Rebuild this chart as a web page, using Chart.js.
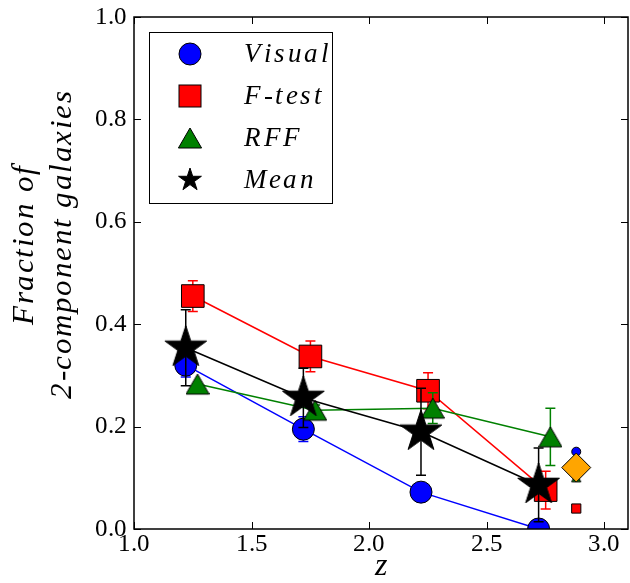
<!DOCTYPE html>
<html>
<head>
<script src="https://cdn.jsdelivr.net/npm/chart.js@4.4.1/dist/chart.umd.min.js"></script>
</head>
<body style="margin:0">
<div style="width:630px;height:583px"><canvas id="fracChart"></canvas></div>
<script>
// values
var seriesNames = ["Visual", "F-test", "RFF", "Mean"];
var zVisual = [1.22, 1.72, 2.22, 2.72];
var fVisual = [0.32, 0.195, 0.072, 0.0];
var eVisual = [0.023, 0.024, 0.0, 0.0];
var zFtest = [1.25, 1.75, 2.25, 2.75];
var fFtest = [0.455, 0.337, 0.27, 0.076];
var eFtest = [0.03, 0.03, 0.035, 0.037];
var zRFF = [1.27, 1.77, 2.27, 2.77];
var fRFF = [0.283, 0.232, 0.236, 0.18];
var eRFF = [0.0, 0.01, 0.03, 0.056];
var zMean = [1.22, 1.72, 2.22, 2.72];
var fMean = [0.354, 0.256, 0.19, 0.086];
var eMean = [0.074, 0.058, 0.085, 0.072];
// single markers on the right
var zExtra = 2.88;
var fExtraVisual = 0.151;
var fExtraFtest = 0.04;
var fExtraRFF = 0.10;
var fExtraAll = 0.12;
var xTicks = [1.0, 1.5, 2.0, 2.5, 3.0];
var yTicks = [0.0, 0.2, 0.4, 0.6, 0.8, 1.0];

var fam = '"TeXish", "Liberation Serif", serif';

function pts(xs, ys) {
    return xs.map(function (x, i) { return {x: x, y: ys[i]}; });
}

function starImg(r, color) {
    var c = document.createElement('canvas');
    c.width = c.height = Math.ceil(2 * r + 4);
    var ctx = c.getContext('2d');
    var cx = c.width / 2, cy = c.height / 2, ri = r * 0.382;
    ctx.beginPath();
    for (var k = 0; k < 10; k++) {
        var rr = k % 2 ? ri : r;
        var a = -Math.PI / 2 + k * Math.PI / 5;
        ctx.lineTo(cx + rr * Math.cos(a), cy + rr * Math.sin(a));
    }
    ctx.closePath();
    ctx.fillStyle = color;
    ctx.fill();
    ctx.lineWidth = 1;
    ctx.strokeStyle = '#000';
    ctx.stroke();
    return c;
}

function triImg(h, color) {
    var c = document.createElement('canvas');
    c.width = c.height = Math.ceil(h + 4);
    var ctx = c.getContext('2d');
    var cx = c.width / 2, cy = c.height / 2;
    ctx.beginPath();
    ctx.moveTo(cx, cy - h / 2);
    ctx.lineTo(cx + h * 0.58, cy + h / 2);
    ctx.lineTo(cx - h * 0.58, cy + h / 2);
    ctx.closePath();
    ctx.fillStyle = color;
    ctx.fill();
    ctx.lineWidth = 1;
    ctx.strokeStyle = '#000';
    ctx.stroke();
    return c;
}

var bigStar = starImg(22, '#000');
var bigTri = triImg(20, '#008000');
var smallTri = triImg(8, '#008000');

// spaced-out italic text, like the TeX math italic in the original
function spacedText(ctx, text, x, y, gap) {
    var w = 0;
    for (var i = 0; i < text.length; i++) w += ctx.measureText(text[i]).width + (i ? gap : 0);
    var align = ctx.textAlign;
    var cx = align === 'center' ? x - w / 2 : x;
    ctx.textAlign = 'left';
    for (var j = 0; j < text.length; j++) {
        ctx.fillText(text[j], cx, y);
        cx += ctx.measureText(text[j]).width + gap;
    }
    ctx.textAlign = align;
}

// error bars, drawn just before each dataset so the markers sit on top
var errorBars = {
    id: 'errorBars',
    beforeDatasetDraw: function (chart, args) {
        var ds = chart.data.datasets[args.index];
        if (!ds.errors) return;
        var xs = chart.scales.x, ys = chart.scales.y, ctx = chart.ctx, a = chart.chartArea;
        ctx.save();
        ctx.beginPath();
        ctx.rect(a.left, a.top, a.right - a.left, a.bottom - a.top);
        ctx.clip();
        ctx.strokeStyle = ds.errColor;
        ctx.lineWidth = 1.5;
        ds.data.forEach(function (p, i) {
            var e = ds.errors[i];
            if (!e) return;
            var px = xs.getPixelForValue(p.x);
            var y1 = ys.getPixelForValue(p.y + e), y2 = ys.getPixelForValue(p.y - e);
            ctx.beginPath();
            ctx.moveTo(px, y1); ctx.lineTo(px, y2);
            ctx.moveTo(px - 5, y1); ctx.lineTo(px + 5, y1);
            ctx.moveTo(px - 5, y2); ctx.lineTo(px + 5, y2);
            ctx.stroke();
        });
        ctx.restore();
    }
};

// frame, inward ticks, y label and legend box
var decor = {
    id: 'decor',
    afterDraw: function (chart) {
        var ctx = chart.ctx, a = chart.chartArea, xs = chart.scales.x, ys = chart.scales.y;
        ctx.save();
        ctx.strokeStyle = '#000';
        ctx.lineWidth = 1.5;
        ctx.strokeRect(a.left, a.top, a.right - a.left, a.bottom - a.top);
        ctx.lineWidth = 1;
        ctx.beginPath();
        xTicks.forEach(function (v) {
            var px = Math.round(xs.getPixelForValue(v)) + 0.5;
            ctx.moveTo(px, a.bottom); ctx.lineTo(px, a.bottom - 7);
            ctx.moveTo(px, a.top); ctx.lineTo(px, a.top + 7);
        });
        yTicks.forEach(function (v) {
            var py = Math.round(ys.getPixelForValue(v)) + 0.5;
            ctx.moveTo(a.left, py); ctx.lineTo(a.left + 7, py);
            ctx.moveTo(a.right, py); ctx.lineTo(a.right - 7, py);
        });
        ctx.stroke();

        // y axis title, two lines
        ctx.fillStyle = '#000';
        ctx.font = 'italic 31px ' + fam;
        ctx.textAlign = 'center';
        ctx.textBaseline = 'middle';
        ctx.translate(0, (a.top + a.bottom) / 2 - 28);
        ctx.rotate(-Math.PI / 2);
        spacedText(ctx, 'Fraction of', 0, 25, 1.5);
        spacedText(ctx, '2-component galaxies', 0, 63, 1.5);
        ctx.setTransform(1, 0, 0, 1, 0, 0);

        // legend
        var bx = a.left + 15, by = a.top + 15, bw = 183, bh = 171;
        ctx.fillStyle = '#fff';
        ctx.fillRect(bx, by, bw, bh);
        ctx.lineWidth = 1;
        ctx.strokeStyle = '#000';
        ctx.strokeRect(bx + 0.5, by + 0.5, bw, bh);
        var mx = bx + 41, tx = bx + 95;
        ctx.font = 'italic 27px ' + fam;
        ctx.textAlign = 'left';
        seriesNames.forEach(function (name, i) {
            var my = by + 22 + i * 42;
            ctx.lineWidth = 1;
            ctx.strokeStyle = '#000';
            if (i === 0) {
                ctx.beginPath();
                ctx.arc(mx, my, 11, 0, 2 * Math.PI);
                ctx.fillStyle = '#0000ff';
                ctx.fill(); ctx.stroke();
            } else if (i === 1) {
                ctx.fillStyle = '#ff0000';
                ctx.fillRect(mx - 11, my - 11, 22, 22);
                ctx.strokeRect(mx - 11, my - 11, 22, 22);
            } else if (i === 2) {
                ctx.drawImage(bigTri, mx - bigTri.width / 2, my - bigTri.height / 2);
            } else {
                var s = starImg(12, '#000');
                ctx.drawImage(s, mx - s.width / 2, my - s.height / 2);
            }
            ctx.fillStyle = '#000';
            spacedText(ctx, name, tx, my + 1, 2.5);
        });
        ctx.restore();
    }
};

function noPad(s) {
    s.paddingLeft = 0; s.paddingRight = 0; s.paddingTop = 0; s.paddingBottom = 0;
}

function makeChart() {
    new Chart(document.getElementById("fracChart"), {
        type: 'scatter',
        data: {
            datasets: [
                {
                    label: seriesNames[0], data: pts(zVisual, fVisual), errors: eVisual, errColor: '#0000ff',
                    showLine: true, borderColor: '#0000ff', backgroundColor: '#0000ff', borderWidth: 1.5,
                    pointStyle: 'circle', pointRadius: 11, pointBorderColor: '#000', pointBorderWidth: 1,
                    order: 8, clip: 0
                },
                {
                    label: seriesNames[1], data: pts(zFtest, fFtest), errors: eFtest, errColor: '#ff0000',
                    showLine: true, borderColor: '#ff0000', backgroundColor: '#ff0000', borderWidth: 1.5,
                    pointStyle: 'rect', pointRadius: 16, pointBorderColor: '#000', pointBorderWidth: 1,
                    order: 7, clip: 0
                },
                {
                    label: seriesNames[2], data: pts(zRFF, fRFF), errors: eRFF, errColor: '#008000',
                    showLine: true, borderColor: '#008000', backgroundColor: '#008000', borderWidth: 1.5,
                    pointStyle: bigTri, order: 6, clip: 0
                },
                {
                    label: seriesNames[3], data: pts(zMean, fMean), errors: eMean, errColor: '#000',
                    showLine: true, borderColor: '#000', backgroundColor: '#000', borderWidth: 1.5,
                    pointStyle: bigStar, order: 5, clip: 0
                },
                {
                    label: 'extra visual', data: [{x: zExtra, y: fExtraVisual}],
                    backgroundColor: '#0000ff', pointStyle: 'circle', pointRadius: 4.5,
                    pointBorderColor: '#000', pointBorderWidth: 1, order: 4, clip: 0
                },
                {
                    label: 'extra ftest', data: [{x: zExtra, y: fExtraFtest}],
                    backgroundColor: '#ff0000', pointStyle: 'rect', pointRadius: 6.5,
                    pointBorderColor: '#000', pointBorderWidth: 1, order: 3, clip: 0
                },
                {
                    label: 'extra rff', data: [{x: zExtra, y: fExtraRFF}],
                    pointStyle: smallTri, order: 2, clip: 0
                },
                {
                    label: 'extra all', data: [{x: zExtra, y: fExtraAll}],
                    backgroundColor: '#ffa500', pointStyle: 'rectRot', pointRadius: 14.5,
                    pointBorderColor: '#000', pointBorderWidth: 1, order: 1, clip: 0
                }
            ]
        },
        options: {
            responsive: true,
            maintainAspectRatio: false,
            animation: false,
            layout: { autoPadding: false, padding: { left: 0, right: 2, top: 17, bottom: 0 } },
            plugins: { legend: { display: false }, tooltip: { enabled: false } },
            elements: { line: { tension: 0 }, point: { hoverRadius: 0 } },
            scales: {
                x: {
                    type: 'linear', min: 1.0, max: 3.1,
                    grid: { display: false, drawTicks: false },
                    border: { display: false },
                    afterFit: function (s) { s.height = 54; noPad(s); },
                    afterBuildTicks: function (s) { s.ticks = xTicks.map(function (v) { return {value: v}; }); },
                    ticks: {
                        padding: 0, color: '#000', maxRotation: 0,
                        font: { family: fam, size: 25 },
                        callback: function (v) { return v.toFixed(1); }
                    },
                    title: {
                        display: true, text: 'z', color: '#000',
                        font: { family: fam, size: 32, style: 'italic', lineHeight: 1.0 },
                        padding: { top: 0, bottom: 0 }
                    }
                },
                y: {
                    type: 'linear', min: 0, max: 1.0,
                    grid: { display: false, drawTicks: false },
                    border: { display: false },
                    afterFit: function (s) { s.width = 134; noPad(s); },
                    afterBuildTicks: function (s) { s.ticks = yTicks.map(function (v) { return {value: v}; }); },
                    ticks: {
                        padding: 7, color: '#000',
                        font: { family: fam, size: 25 },
                        callback: function (v) { return v.toFixed(1); }
                    }
                }
            }
        },
        plugins: [errorBars, decor]
    });
}

// register the local serif faces explicitly, then draw
var faces = [
    new FontFace('TeXish', 'local("Liberation Serif"), local("LiberationSerif")', {style: 'normal'}),
    new FontFace('TeXish', 'local("Liberation Serif Italic"), local("LiberationSerif-Italic")', {style: 'italic'})
];
Promise.all(faces.map(function (f) {
    document.fonts.add(f);
    return f.load().catch(function () {});
})).then(makeChart, makeChart);
</script>
</body>
</html>
